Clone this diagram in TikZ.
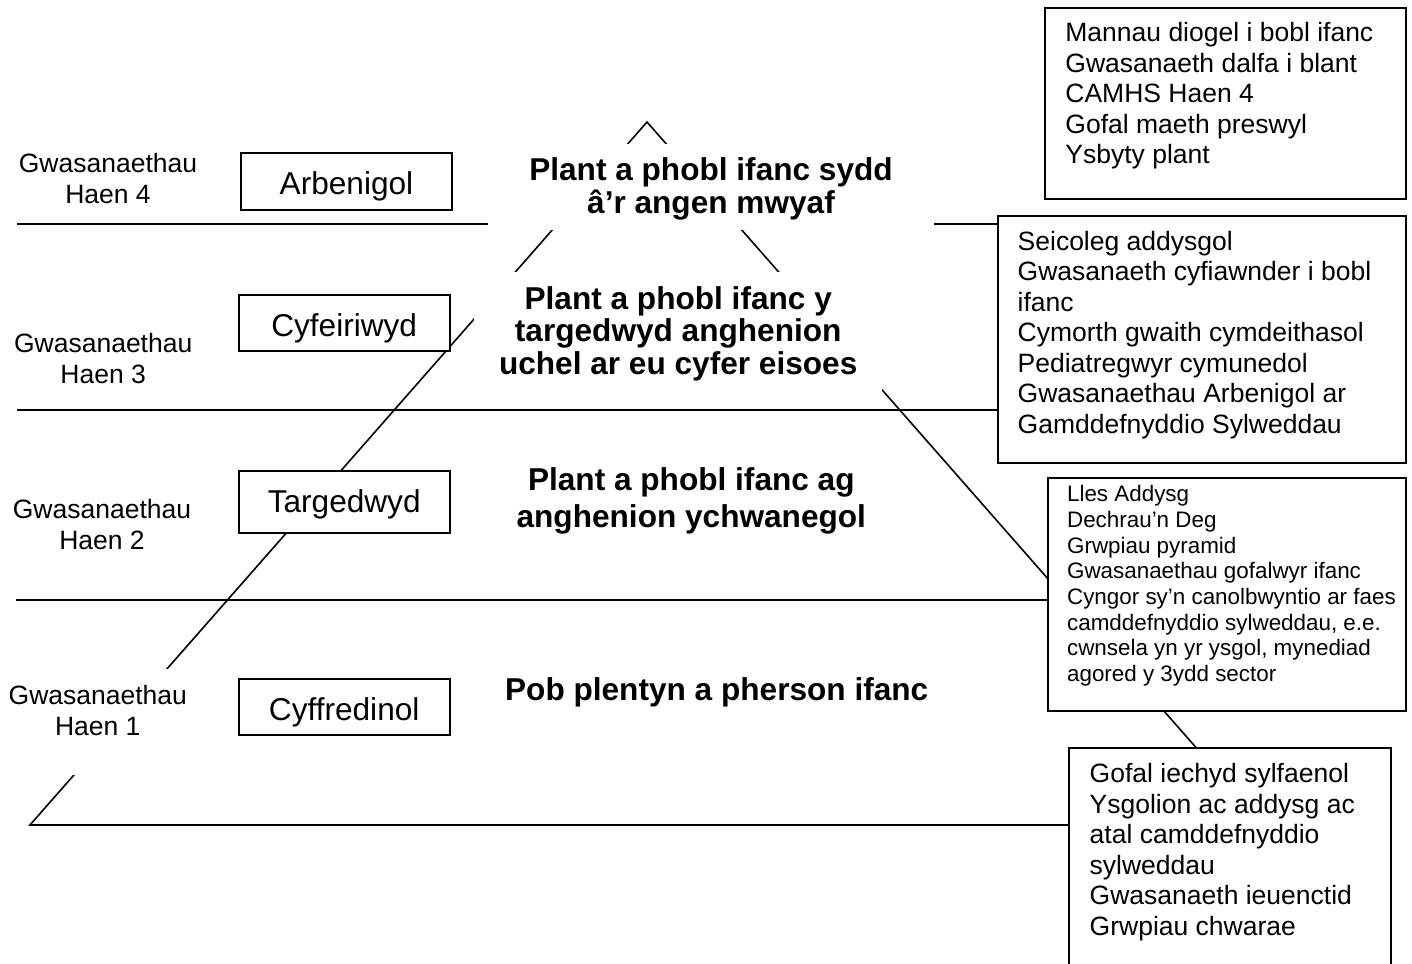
\documentclass[tikz,border=0pt]{standalone}
\usepackage{fontspec}
\setmainfont{Liberation Sans}
\usepackage{tikz}
\usetikzlibrary{positioning}
\tikzstyle{line} = [line width=0.8pt]
\tikzstyle{tier} = [rectangle, draw, fill=white, line width=1pt, inner sep=0pt, anchor=north west, minimum width=105.5pt, text height=20.5pt, font=\fontsize{15.8}{19}\selectfont]
\tikzstyle{haen} = [align=center, inner sep=2pt, anchor=base, font=\fontsize{13.25}{15.35}\selectfont]
\tikzstyle{need} = [align=center, fill=white, inner sep=0pt, anchor=base, font=\fontsize{15.8}{16.25}\selectfont\bfseries]
\tikzstyle{listbox} = [rectangle, draw, fill=white, line width=1pt, inner sep=0pt, anchor=north west]
\tikzstyle{list} = [align=left, inner sep=0pt, font=\fontsize{13.25}{15.25}\selectfont]

\begin{document}
\begin{tikzpicture}[x=0.5pt,y=-0.5pt]
\useasboundingbox (0,0) rectangle (1412,963);
\coordinate (apex) at (647,122);
\coordinate (baseL) at (30,825);
\coordinate (baseR) at (1264,825);
\draw [line] (baseL) -- (apex) -- (baseR) -- cycle;
\draw [line] (17,224) -- (1200,224);
\draw [line] (17,410) -- (1200,410);
\draw [line] (16,600) -- (1200,600);
\node (haen4) [haen] at (108,203.3) {Gwasanaethau\\Haen 4};
\node (haen3) [haen] at (103.2,383.3) {Gwasanaethau\\Haen 3};
\node (haen2) [haen] at (102,549) {Gwasanaethau\\Haen 2};
\node (haen1) [haen, fill=white, text height=31pt, text depth=18pt] at (97.8,735) {Gwasanaethau\\Haen 1};
\node (arb) [tier, text depth=8pt] at (240,152) {Arbenigol};
\node (cyf) [tier, text depth=7.5pt] at (237.7,294) {Cyfeiriwyd};
\node (targ) [tier, text depth=10.65pt] at (237.7,470) {Targedwyd};
\node (cyffr) [tier, text depth=7.5pt] at (237.7,678.3) {Cyffredinol};
\node (need1) [need, minimum width=223pt, text height=34.5pt, text depth=8.5pt] at (711,213) {Plant a phobl ifanc sydd\\â’r angen mwyaf};
\node (need2) [need, minimum width=204pt, text height=51.4pt, text depth=12.85pt] at (678.2,374.3) {Plant a phobl ifanc y\\targedwyd anghenion\\uchel ar eu cyfer eisoes};
\node (need3) [need, font=\fontsize{15.8}{18.65}\selectfont\bfseries] at (691.3,527.3) {Plant a phobl ifanc ag\\anghenion ychwanegol};
\node (need4) [need] at (716.7,700) {Pob plentyn a pherson ifanc};
\node (h4box) [listbox, minimum width=180.35pt, minimum height=95.8pt] at (1044.3,6.7) {};
\node (h4list) [list, below right=78.5pt and 10.35pt of h4box.north west, anchor=base west] {Mannau diogel i bobl ifanc\\Gwasanaeth dalfa i blant\\CAMHS Haen 4\\Gofal maeth preswyl\\Ysbyty plant};
\node (h3box) [listbox, minimum width=204.15pt, minimum height=123.35pt] at (996.7,215) {};
\node (h3list) [list, below right=109pt and 10.3pt of h3box.north west, anchor=base west] {Seicoleg addysgol\\Gwasanaeth cyfiawnder i bobl\\ifanc\\Cymorth gwaith cymdeithasol\\Pediatregwyr cymunedol\\Gwasanaethau Arbenigol ar\\Gamddefnyddio Sylweddau};
\node (h2box) [listbox, minimum width=179.15pt, minimum height=116.65pt] at (1046.7,476.7) {};
\node (h2list) [list, font=\fontsize{11.2}{12.85}\selectfont, below right=102.45pt and 10pt of h2box.north west, anchor=base west] {Lles Addysg\\Dechrau’n Deg\\Grwpiau pyramid\\Gwasanaethau gofalwyr ifanc\\Cyngor sy’n canolbwyntio ar faes\\camddefnyddio sylweddau, e.e.\\cwnsela yn yr ysgol, mynediad\\agored y 3ydd sector};
\node (h1box) [listbox, minimum width=160.85pt, minimum height=113.85pt] at (1068.3,747.3) {};
\node (h1list) [list, below right=93.95pt and 10.5pt of h1box.north west, anchor=base west] {Gofal iechyd sylfaenol\\Ysgolion ac addysg ac\\atal camddefnyddio\\sylweddau\\Gwasanaeth ieuenctid\\Grwpiau chwarae};
\end{tikzpicture}
\end{document}
